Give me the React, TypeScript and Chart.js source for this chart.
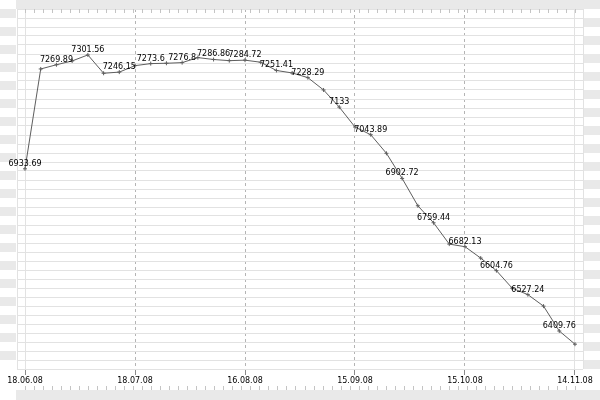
import React, { useEffect, useRef } from 'react';
import { Chart, registerables } from 'chart.js';

Chart.register(...registerables);

// ---- data ----
const dateLabels: string[] = ['18.06.08', '18.07.08', '16.08.08', '15.09.08', '15.10.08', '14.11.08'];
const pointsPerLabel = 7; // a date label every 7 points
const values: number[] = [
  6933.69, 7256.3, 7269.89, 7282.2, 7301.56, 7242.4, 7246.15, 7267.0, 7273.6, 7274.7,
  7276.8, 7293.0, 7286.86, 7283.1, 7284.72, 7278.0, 7251.41, 7243.4, 7228.29, 7188.4,
  7133, 7068.8, 7043.89, 6983.8, 6902.72, 6814.3, 6759.44, 6690.5, 6682.13, 6645.3,
  6604.76, 6548.3, 6527.24, 6490.1, 6409.76, 6367.2,
];
const yMin = 6287;
const yMax = 7450;
const gridRows = 40;
const minorTickCount = 61;

// ---- styles ----
const BAND = '#e9e9e9';
const GRID = '#e2e2e2';
const DASH = '#b4b4b4';
const LINE = '#5e5e5e';
const FONT = { family: 'DejaVu Sans', size: 8 };

const lastIndex = values.length - 1;
const xPad = 0.51;

const backgroundPlugin = {
  id: 'bgStripes',
  beforeDraw(chart: any) {
    const { ctx, width } = chart;
    const area = chart.chartArea;
    const g = chart.scales.g;
    const xs = chart.scales.x;
    ctx.save();
    ctx.fillStyle = '#ffffff';
    ctx.fillRect(0, 0, width, chart.height);
    ctx.fillStyle = BAND;
    const left = Math.round(area.left) - 1;
    const right = Math.round(area.right) + 1;
    const topY = Math.round(g.getPixelForValue(gridRows));
    ctx.fillRect(left, 0, width - left, topY);
    const bandTop = Math.round(xs.bottom);
    ctx.fillRect(left, bandTop, width - left, chart.height - bandTop);
    for (let r = 0; r < gridRows; r++) {
      const y1 = Math.round(g.getPixelForValue(gridRows - r));
      const y2 = Math.round(g.getPixelForValue(gridRows - r - 1));
      if (r % 2 === 0) ctx.fillRect(0, y1, left, y2 - y1);
      else ctx.fillRect(right, y1, width - right, y2 - y1);
    }
    ctx.restore();
  },
  afterDraw(chart: any) {
    const { ctx } = chart;
    const xs = chart.scales.x;
    const area = chart.chartArea;
    ctx.save();
    ctx.strokeStyle = '#c4c4c4';
    ctx.lineWidth = 1;
    ctx.beginPath();
    for (let k = 0; k <= minorTickCount; k++) {
      const px = Math.round(xs.getPixelForValue((k * lastIndex) / minorTickCount)) + 0.5;
      ctx.moveTo(px, area.top);
      ctx.lineTo(px, area.top + 4);
      ctx.moveTo(px, xs.bottom - 4);
      ctx.lineTo(px, xs.bottom);
    }
    ctx.stroke();
    ctx.restore();
  },
};

const valueLabelPlugin = {
  id: 'valueLabels',
  afterDatasetsDraw(chart: any) {
    const { ctx } = chart;
    const meta = chart.getDatasetMeta(0);
    ctx.save();
    ctx.font = `${FONT.size}px ${FONT.family}`;
    ctx.fillStyle = '#000';
    ctx.textAlign = 'center';
    ctx.textBaseline = 'alphabetic';
    meta.data.forEach((pt: any, i: number) => {
      if (i % 2 !== 0) return;
      ctx.fillText(String(values[i]), pt.x, pt.y - 3);
    });
    ctx.restore();
  },
};

export default function App() {
  const ref = useRef<HTMLCanvasElement | null>(null);
  useEffect(() => {
    if (!ref.current) return;
    const isMajor = (v: number) => Math.abs(v / pointsPerLabel - Math.round(v / pointsPerLabel)) < 1e-6 && v >= 0 && v <= lastIndex;
    const chart = new Chart(ref.current, {
      type: 'line',
      data: {
        datasets: [
          {
            data: values.map((v, i) => ({ x: i, y: v })),
            borderColor: LINE,
            borderWidth: 1,
            pointStyle: 'cross',
            pointRadius: 2,
            pointBorderColor: LINE,
            pointBorderWidth: 1,
            tension: 0,
            fill: false,
          },
        ],
      },
      options: {
        responsive: false,
        animation: false,
        devicePixelRatio: 1,
        layout: { padding: { left: 17, right: 17, top: 9, bottom: 10 } },
        plugins: { legend: { display: false }, tooltip: { enabled: false }, title: { display: false } },
        scales: {
          x: {
            type: 'linear',
            min: -xPad,
            max: lastIndex + xPad,
            afterBuildTicks: (s: any) => {
              s.ticks = [
                { value: -xPad },
                ...dateLabels.map((_, i) => ({ value: i * pointsPerLabel })),
                { value: lastIndex + xPad },
              ];
            },
            afterFit: (s: any) => {
              s.height = 21;
            },
            ticks: {
              autoSkip: false,
              maxRotation: 0,
              padding: 1,
              color: '#000',
              font: FONT,
              callback: (v: any) => (isMajor(Number(v)) ? dateLabels[Math.round(Number(v) / pointsPerLabel)] : ''),
            },
            grid: {
              color: (c: any) => {
                const v = c.tick ? c.tick.value : 0;
                return isMajor(v) && v !== 0 && v !== lastIndex ? DASH : GRID;
              },
              tickColor: (c: any) => (c.tick && isMajor(c.tick.value) ? '#8a8a8a' : 'rgba(0,0,0,0)'),
              tickLength: 6,
              tickBorderDash: [],
            },
            border: {
              display: false,
              dash: (c: any) => {
                const v = c.tick ? c.tick.value : 0;
                return isMajor(v) && v !== 0 && v !== lastIndex ? [3, 3] : [];
              },
            },
          },
          y: {
            type: 'linear',
            display: false,
            min: yMin,
            max: yMax,
          },
          g: {
            type: 'linear',
            position: 'left',
            min: 0,
            max: gridRows,
            afterBuildTicks: (s: any) => {
              const t: any[] = [];
              for (let i = 0; i <= gridRows; i++) t.push({ value: i });
              s.ticks = t;
            },
            afterFit: (s: any) => {
              s.width = 0;
            },
            ticks: { display: false },
            grid: { color: GRID, drawTicks: false },
            border: { display: false },
          },
        },
      } as any,
      plugins: [backgroundPlugin, valueLabelPlugin],
    });
    return () => chart.destroy();
  }, []);
  return (
    <div style={{ position: 'absolute', left: 0, top: 0, width: 600, height: 400 }}>
      <canvas ref={ref} width={600} height={400} style={{ width: 600, height: 400, display: 'block' }} />
    </div>
  );
}
